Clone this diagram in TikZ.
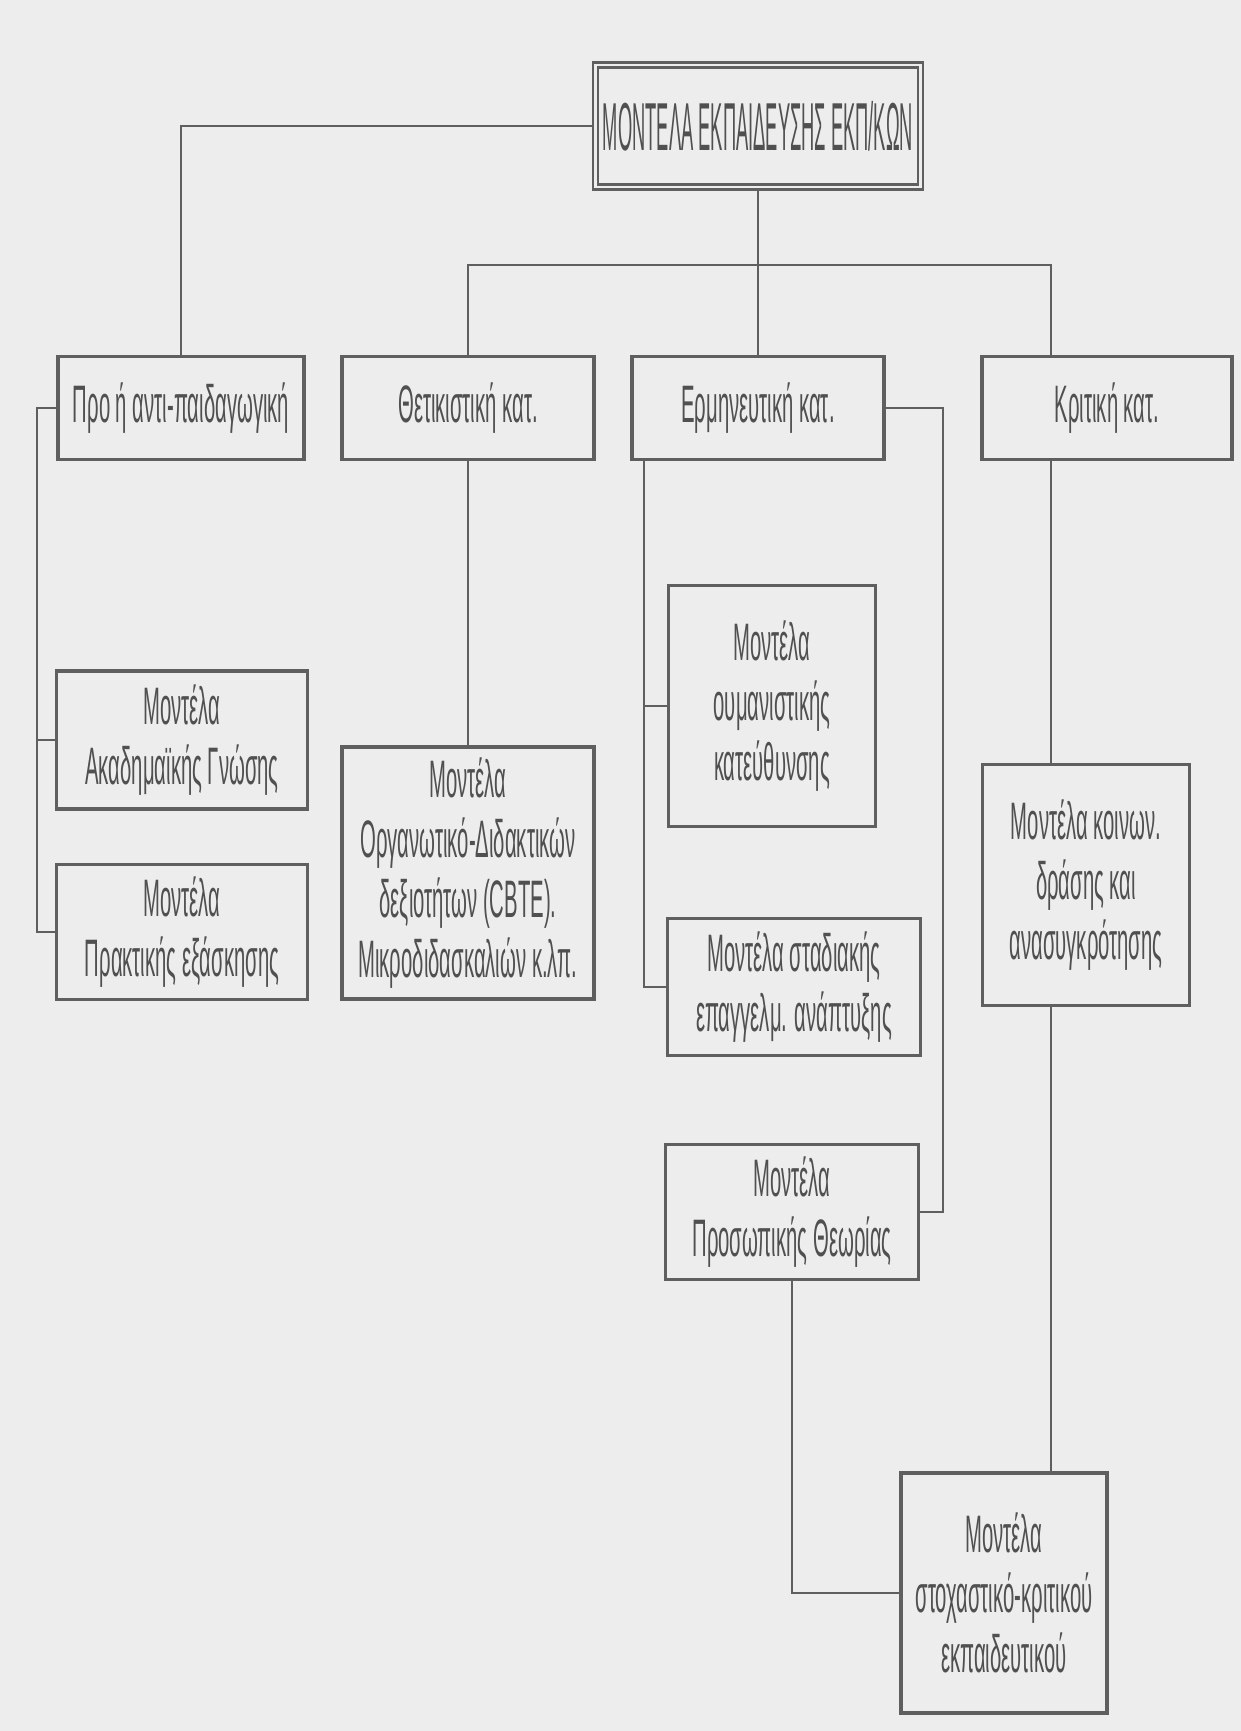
\documentclass[tikz,border=0pt]{standalone}
\usepackage{fontspec}
\setmainfont{Liberation Sans}
\newfontfamily\grfont[FakeStretch=0.385]{Liberation Sans}
\newfontfamily\grcaps[FakeStretch=0.27]{Liberation Sans}
\usepackage{tikz}
\definecolor{bg}{RGB}{237,237,237}
\definecolor{ink}{RGB}{80,80,80}
\definecolor{rule}{RGB}{95,95,95}
\tikzset{
	box/.style={draw=rule,line width=0.9pt,fill=bg,text=ink,align=center,inner sep=0pt,font=\grfont\fontsize{15}{17}\selectfont},
	topbox/.style={box,double=bg,double distance=0.8pt,line width=0.6pt,font=\grcaps\fontsize{19.3}{22}\selectfont},
	link/.style={draw=rule,line width=0.7pt}
}

\begin{document}
\begin{tikzpicture}[x=0.1mm,y=-0.1mm]
			\fill[bg] (0,0) rectangle (1241,1731);
			\useasboundingbox (0,0) rectangle (1241,1731);

			\node[topbox,minimum width=32.5mm,minimum height=12.2mm] (top) at (758,126) {ΜΟΝΤΕΛΑ ΕΚΠΑΙΔΕΥΣΗΣ ΕΚΠ/ΚΩΝ};

			\node[box,minimum width=24.6mm,minimum height=10.3mm] (pro) at (181,408) {Προ ή αντι-παιδαγωγική};
			\node[box,minimum width=25.2mm,minimum height=10.3mm] (thet) at (468,408) {Θετικιστική κατ.};
			\node[box,minimum width=25.2mm,minimum height=10.3mm] (erm) at (758,408) {Ερμηνευτική κατ.};
			\node[box,minimum width=25mm,minimum height=10.3mm] (krit) at (1107,408) {Κριτική κατ.};

			\node[box,minimum width=25.1mm,minimum height=13.8mm] (akad) at (182,740) {Μοντέλα\\Ακαδημαϊκής Γνώσης};
			\node[box,minimum width=25.1mm,minimum height=13.5mm] (prakt) at (182,932) {Μοντέλα\\Πρακτικής εξάσκησης};
			\node[box,minimum width=25.2mm,minimum height=25.2mm] (org) at (468,873) {Μοντέλα\\Οργανωτικό-Διδακτικών\\δεξιοτήτων (CBTE).\\Μικροδιδασκαλιών κ.λπ.};
			\node[box,minimum width=20.7mm,minimum height=24.1mm] (ouman) at (772,706) {Μοντέλα\\ουμανιστικής\\κατεύθυνσης};
			\node[box,minimum width=25.3mm,minimum height=13.7mm] (stad) at (794,987) {Μοντέλα σταδιακής\\επαγγελμ. ανάπτυξης};
			\node[box,minimum width=25.3mm,minimum height=13.5mm] (pros) at (792,1212) {Μοντέλα\\Προσωπικής Θεωρίας};
			\node[box,minimum width=20.7mm,minimum height=24.1mm] (koin) at (1086,885) {Μοντέλα κοινων.\\δράσης και\\ανασυγκρότησης};
			\node[box,minimum width=20.6mm,minimum height=24mm] (stox) at (1004,1593) {Μοντέλα\\στοχαστικό-κριτικού\\εκπαιδευτικού};

			\coordinate (bar) at (758,265);
			\coordinate (kritx) at (1051,265);
			\coordinate (pbus) at (37,408);
			\coordinate (ebus) at (644,460);
			\coordinate (ermr) at (943,800);

			\draw[link] (top.west) -| (pro.north);
			\draw[link] (top.south) -- (bar) -- (erm.north);
			\draw[link] (thet.north) |- (kritx) -- (kritx |- krit.north);
			\draw[link] (krit.south -| kritx) -- (koin.north -| kritx);
			\draw[link] (koin.south -| kritx) -- (stox.north -| kritx);
			\draw[link] (pro.west) -- (pbus) |- (prakt.west);
			\draw[link] (pbus |- akad.west) -- (akad.west);
			\draw[link] (thet.south) -- (org.north);
			\draw[link] (ebus |- erm.south) |- (stad.west);
			\draw[link] (ebus |- ouman.west) -- (ouman.west);
			\draw[link] (erm.east) -| (ermr) |- (pros.east);
			\draw[link] (pros.south) |- (stox.west);
		\end{tikzpicture}
\end{document}
